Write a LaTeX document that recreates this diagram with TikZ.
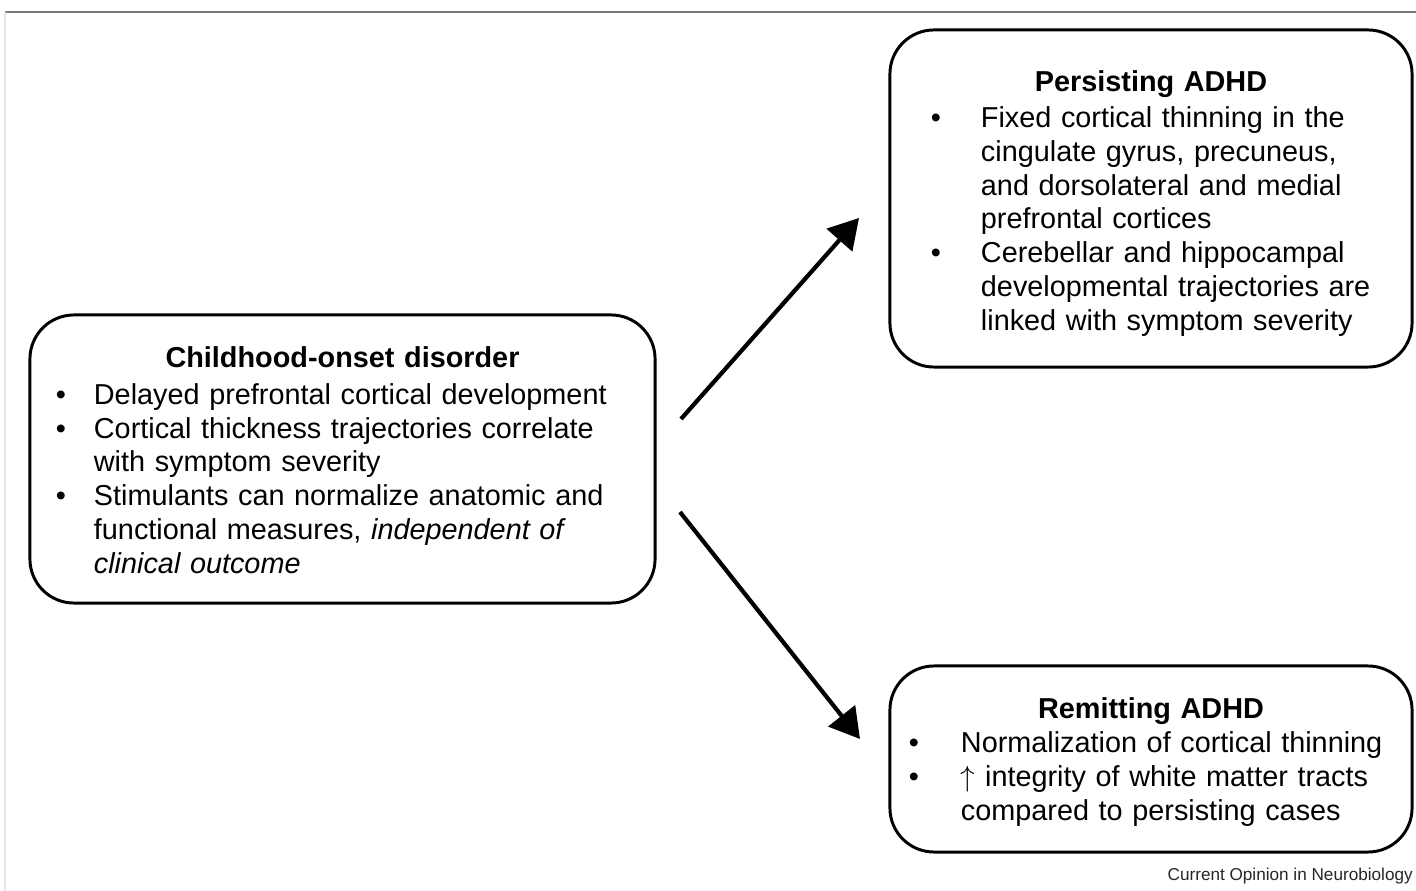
\documentclass[tikz,border=0pt]{standalone}
\usepackage{fontspec}
\setmainfont{Liberation Sans}
\usepackage{enumitem}
\usetikzlibrary{arrows.meta}
\definecolor{RuleGray}{RGB}{120,120,120}
\definecolor{EdgeGray}{RGB}{228,228,228}
\newcommand{\panelfont}{\fontsize{20.5}{24.1}\selectfont}

\begin{document}
\begin{tikzpicture}[x=0.025cm,y=-0.025cm,
    panel/.style={draw,line width=2.1pt,rounded corners=1.1cm,inner ysep=0pt,font=\panelfont},
    flow/.style={line width=3pt,-{Triangle[length=0.74cm,width=0.84cm]}}]
  \useasboundingbox (0,0) rectangle (1416,891);
  % page rule
  \draw[RuleGray,line width=1.4pt] (5,12) -- (1416,12);
  \draw[EdgeGray,line width=0.8pt] (5,12) -- (5,891);
  % boxes
  \node[panel,inner xsep=0.5cm,minimum height=7.2cm,text width=14.625cm] (child) at (342.5,459) {%
    {\centering\rule{0pt}{16.8pt}\textbf{Childhood-onset disorder}\par}\vspace{1.8pt}\raggedright
    \begin{itemize}[leftmargin=1.1cm,labelsep=0.7cm,nosep]
      \item Delayed prefrontal cortical development
      \item Cortical thickness trajectories correlate\\with symptom severity
      \item Stimulants can normalize anatomic and\\functional measures, \textit{independent of}\\\textit{clinical outcome}
    \end{itemize}};
  \node[panel,inner xsep=0.3cm,minimum height=8.425cm,text width=12.45cm] (persist) at (1151,198.5) {%
    {\centering\rule{0pt}{22pt}\textbf{Persisting ADHD}\par}\vspace{1.4pt}\raggedright
    \begin{itemize}[leftmargin=1.975cm,labelsep=1.0cm,nosep]
      \item Fixed cortical thinning in the\\cingulate gyrus, precuneus,\\and dorsolateral and medial\\prefrontal cortices
      \item Cerebellar and hippocampal\\developmental trajectories are\\linked with symptom severity
    \end{itemize}};
  \node[panel,inner xsep=0.3cm,minimum height=4.65cm,text width=12.45cm] (remit) at (1151,759) {%
    {\centering\rule{0pt}{19.2pt}\textbf{Remitting ADHD}\par}\raggedright
    \begin{itemize}[leftmargin=1.475cm,labelsep=1.05cm,nosep]
      \item Normalization of cortical thinning
      \item $\uparrow$ integrity of white matter tracts\\compared to persisting cases
    \end{itemize}};
  % arrows
  \coordinate (upfrom) at (681,419);
  \coordinate (upto) at (859,218);
  \coordinate (downfrom) at (680,512);
  \coordinate (downto) at (860,739);
  \draw[flow] (upfrom) -- (upto);
  \draw[flow] (downfrom) -- (downto);
  \node[anchor=east,inner sep=0pt,font=\fontsize{12.2}{14}\selectfont,text=black!85] (credit) at (1413,876) {Current Opinion in Neurobiology};
\end{tikzpicture}
\end{document}
